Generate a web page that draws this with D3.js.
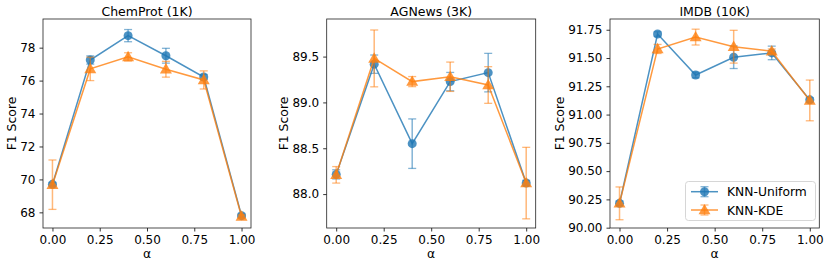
<!DOCTYPE html>
<html><head><meta charset="utf-8">
<script src="https://cdn.jsdelivr.net/npm/d3@7"></script>
<style>body{margin:0;background:#fff}svg{display:block}text{font-family:"DejaVu Sans",sans-serif;fill:#000}</style>
</head><body><svg id="c" width="830" height="267"></svg>
<script>
const alphas = [0, 0.2, 0.4, 0.6, 0.8, 1.0];
const titles = ["ChemProt (1K)", "AGNews (3K)", "IMDB (10K)"];
const seriesNames = ["KNN-Uniform", "KNN-KDE"];
// ChemProt
const chemUniform = [69.70, 77.25, 78.73, 77.51, 76.22, 67.80];
const chemUniformErr = [0.10, 0.25, 0.37, 0.45, 0.15, 0.10];
const chemKDE = [69.68, 76.71, 77.44, 76.69, 76.04, 67.75];
const chemKDEErr = [1.50, 0.71, 0.25, 0.48, 0.55, 0.10];
// AGNews
const agUniform = [88.215, 89.417, 88.55, 89.227, 89.325, 88.12];
const agUniformErr = [0.05, 0.10, 0.27, 0.10, 0.21, 0.03];
const agKDE = [88.21, 89.48, 89.227, 89.28, 89.19, 88.12];
const agKDEErr = [0.09, 0.31, 0.055, 0.16, 0.20, 0.39];
// IMDB
const imdbUniform = [90.215, 91.712, 91.35, 91.507, 91.545, 91.13];
const imdbUniformErr = [0.02, 0.02, 0.025, 0.10, 0.06, 0.02];
const imdbKDE = [90.215, 91.58, 91.685, 91.60, 91.56, 91.125];
const imdbKDEErr = [0.145, 0.04, 0.07, 0.145, 0.02, 0.18];

const yTicks = [[68,70,72,74,76,78],[88.0,88.5,89.0,89.5],[90.00,90.25,90.50,90.75,91.00,91.25,91.50,91.75]];
const yFormats = [d3.format("d"), d3.format(".1f"), d3.format(".2f")];
const xTicks = [0, 0.25, 0.5, 0.75, 1.0];
const yDomains = [[67.05, 79.74], [87.63, 89.91], [89.997, 91.845]];

const panels = [
  {u: chemUniform, ue: chemUniformErr, k: chemKDE, ke: chemKDEErr},
  {u: agUniform, ue: agUniformErr, k: agKDE, ke: agKDEErr},
  {u: imdbUniform, ue: imdbUniformErr, k: imdbKDE, ke: imdbKDEErr}
];
const boxes = [[43, 251], [326.7, 535.7], [610, 819.3]];
const plotTop = 19, plotBottom = 228;
const colors = ["#1f77b4", "#ff7f0e"];

const svg = d3.select("#c");
const tri = d3.symbol().type(d3.symbolTriangle).size(62);

panels.forEach((p, i) => {
  const [x0, x1] = boxes[i];
  const x = d3.scaleLinear().domain([-0.05, 1.05]).range([x0, x1]);
  const y = d3.scaleLinear().domain(yDomains[i]).range([plotBottom, plotTop]);
  const g = svg.append("g");
  const xa = g.append("g").attr("transform", `translate(0,${plotBottom})`)
    .call(d3.axisBottom(x).tickValues(xTicks).tickFormat(d3.format(".2f")).tickSizeOuter(0).tickSize(3.5).tickPadding(4));
  const ya = g.append("g").attr("transform", `translate(${x0},0)`)
    .call(d3.axisLeft(y).tickValues(yTicks[i]).tickFormat(yFormats[i]).tickSizeOuter(0).tickSize(3.5).tickPadding(4));
  [xa, ya].forEach(a => {
    a.select(".domain").remove();
    a.selectAll("text").style("font-size", "12px").style("font-family", "DejaVu Sans");
    a.selectAll("line").attr("stroke", "#000").attr("stroke-width", 0.8);
  });
  g.append("rect").attr("x", x0).attr("y", plotTop).attr("width", x1 - x0).attr("height", plotBottom - plotTop)
    .attr("fill", "none").attr("stroke", "#222").attr("stroke-width", 0.8);
  g.append("text").attr("x", (x0 + x1) / 2).attr("y", 15.5).attr("text-anchor", "middle")
    .style("font-size", "12.5px").text(titles[i]);
  g.append("text").attr("x", (x0 + x1) / 2).attr("y", 258).attr("text-anchor", "middle")
    .style("font-size", "12.4px").text("α");
  const ylx = [15.5, 287.5, 564][i];
  g.append("text").attr("transform", `translate(${ylx},${(plotTop + plotBottom) / 2}) rotate(-90)`)
    .attr("text-anchor", "middle").style("font-size", "12.4px").text("F1 Score");

  const data = [[p.u, p.ue], [p.k, p.ke]];
  data.forEach(([vals, errs], s) => {
    const c = colors[s];
    const sg = g.append("g");
    alphas.forEach((a, j) => {
      const xx = x(a), ya0 = y(vals[j] - errs[j]), ya1 = y(vals[j] + errs[j]);
      sg.append("line").attr("x1", xx).attr("x2", xx).attr("y1", ya0).attr("y2", ya1)
        .attr("stroke", c).attr("stroke-width", 1.5).attr("opacity", 0.55);
      [ya0, ya1].forEach(yy => sg.append("line").attr("x1", xx - 4).attr("x2", xx + 4).attr("y1", yy).attr("y2", yy)
        .attr("stroke", c).attr("stroke-width", 1.3).attr("opacity", 0.55));
    });
    sg.append("path").datum(vals).attr("fill", "none").attr("stroke", c).attr("stroke-width", 1.5).attr("opacity", 0.8)
      .attr("d", d3.line().x((d, j) => x(alphas[j])).y(d => y(d)));
    alphas.forEach((a, j) => {
      if (s === 0) sg.append("circle").attr("cx", x(a)).attr("cy", y(vals[j])).attr("r", 4.5).attr("fill", c).attr("opacity", 0.8);
      else sg.append("path").attr("d", tri).attr("transform", `translate(${x(a)},${y(vals[j]) + 0.8})`).attr("fill", c).attr("opacity", 0.8);
    });
  });
});

const lg = svg.append("g");
lg.append("rect").attr("x", 685.5).attr("y", 181.5).attr("width", 130).attr("height", 39).attr("rx", 3)
  .attr("fill", "#fff").attr("fill-opacity", 0.8).attr("stroke", "#ccc").attr("stroke-width", 0.8);
seriesNames.forEach((n, s) => {
  const yy = [191.7, 210][s], c = colors[s];
  lg.append("line").attr("x1", 691).attr("x2", 718).attr("y1", yy).attr("y2", yy).attr("stroke", c).attr("stroke-width", 1.5).attr("opacity", 0.8);
  lg.append("line").attr("x1", 704.5).attr("x2", 704.5).attr("y1", yy - 5).attr("y2", yy + 5).attr("stroke", c).attr("stroke-width", 1.5).attr("opacity", 0.55);
  [yy - 5, yy + 5].forEach(y2 => lg.append("line").attr("x1", 700.5).attr("x2", 708.5).attr("y1", y2).attr("y2", y2).attr("stroke", c).attr("stroke-width", 1.3).attr("opacity", 0.55));
  if (s === 0) lg.append("circle").attr("cx", 704.5).attr("cy", yy).attr("r", 4.5).attr("fill", c).attr("opacity", 0.8);
  else lg.append("path").attr("d", tri).attr("transform", `translate(704.5,${yy + 0.8})`).attr("fill", c).attr("opacity", 0.8);
  lg.append("text").attr("x", 727).attr("y", yy + 4.5).style("font-size", "12.3px").text(n);
});
</script></body></html>
